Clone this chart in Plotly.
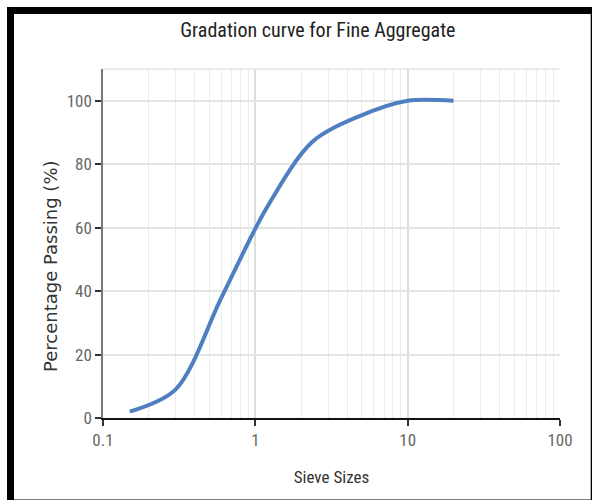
import plotly.graph_objects as go

sieve_sizes = [0.15, 0.3, 0.6, 1.18, 2.36, 4.75, 10, 20]
percent_passing = [2, 9, 38, 66, 87, 95, 100, 100]

title_text = "Gradation curve for Fine Aggregate"
x_title = "Sieve Sizes"
y_title = "Percentage Passing (%)"

narrow = "Liberation Sans Narrow, Arial Narrow, Roboto Condensed, Roboto, sans-serif"

fig = go.Figure()
fig.add_trace(go.Scatter(
    x=sieve_sizes, y=percent_passing, mode="lines",
    line=dict(color="#4f7fc0", width=4, shape="spline", smoothing=0.9),
    showlegend=False,
))

fig.update_layout(
    width=592, height=500,
    margin=dict(l=103, r=32, t=69, b=82),
    paper_bgcolor="white", plot_bgcolor="white",
    title=dict(text=title_text, x=0.537, xanchor="center", y=0.94, yanchor="middle",
               font=dict(family=narrow, size=20, color="#222")),
    xaxis=dict(
        type="log", range=[-1, 2], dtick=1,
        tickvals=[0.1, 1, 10, 100], ticktext=["0.1", "1", "10", "100"],
        showgrid=True, gridcolor="#dcdcdc", gridwidth=1.5,
        minor=dict(dtick="D1", showgrid=True, gridcolor="#ececec", gridwidth=1, ticks=""),
        showline=True, linecolor="#111", linewidth=2,
        ticks="outside", ticklen=6, tickcolor="#333", tickwidth=1.5,
        tickfont=dict(family=narrow, size=17, color="#666"),
        title=dict(text=x_title, font=dict(family=narrow, size=17, color="#333"), standoff=22),
        zeroline=False,
    ),
    yaxis=dict(
        range=[0, 110], tickvals=[0, 20, 40, 60, 80, 100],
        showgrid=True, gridcolor="#e4e4e4", gridwidth=1.5,
        showline=True, linecolor="#777", linewidth=1.5,
        ticks="outside", ticklen=6, tickcolor="#333", tickwidth=1.5,
        tickfont=dict(family=narrow, size=17, color="#666"),
        zeroline=False,
    ),
    annotations=[
        dict(text=y_title, xref="paper", yref="paper", x=-0.116, y=0.4355,
             xanchor="center", yanchor="middle", textangle=-90, showarrow=False,
             font=dict(family="DejaVu Sans", size=18, color="#333")),
    ],
    shapes=[
        dict(type="line", xref="paper", yref="paper", x0=0, x1=1, y0=1, y1=1,
             line=dict(color="#e4e4e4", width=1.5)),
        dict(type="rect", xref="paper", yref="paper",
             x0=-0.2024, x1=1.0748, y0=-0.2435, y1=1.1676,
             line=dict(color="black", width=7), layer="above"),
    ],
)

fig.write_html(
    "out.html",
    config={"displayModeBar": False},
    post_script="document.body.style.margin='0';document.body.style.overflow='hidden';",
)
